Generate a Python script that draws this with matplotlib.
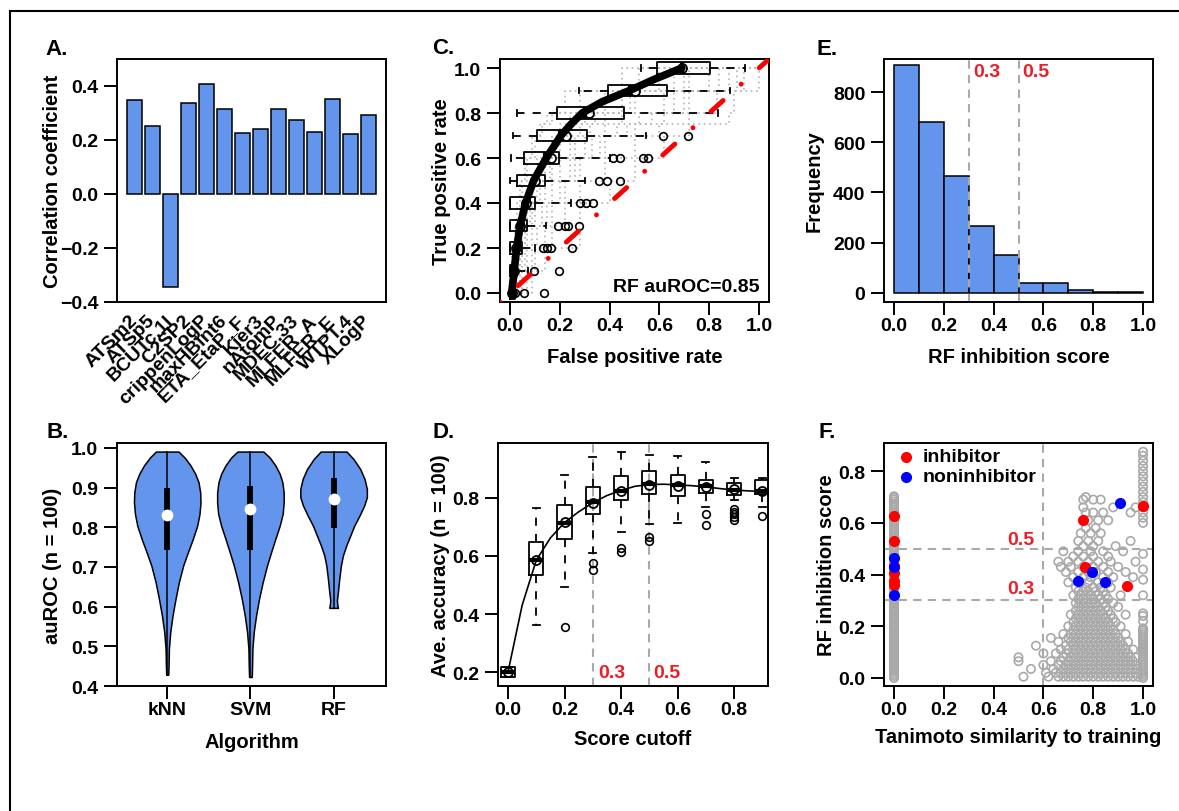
import matplotlib
matplotlib.use("Agg")
import matplotlib.pyplot as plt
from matplotlib import font_manager
from matplotlib.lines import Line2D

# ---------------- data ----------------
# A. correlation of descriptors with activity
desc_names = ["ATSm2", "ATSp5", "BCUTc.1l", "C2SP2", "crippenLogP", "maxHBint6",
              "ETA_EtaP_F", "Kier3", "nAtomP", "MDEC.33", "MLFER_A", "MLFER_E",
              "WTPT.4", "XLogP"]
desc_corr = [0.348, 0.249, -0.345, 0.337, 0.408, 0.314, 0.224, 0.240, 0.313,
             0.273, 0.228, 0.350, 0.220, 0.292]

# B. violin outlines (auROC value, half width) and inner box stats
algos = ["kNN", "SVM", "RF"]
knn_y = [0.991, 0.976, 0.956, 0.935, 0.914, 0.888, 0.863, 0.834, 0.804, 0.771,
         0.737, 0.704, 0.662, 0.620, 0.578, 0.536, 0.494, 0.452, 0.4285]
knn_w = [0.136, 0.208, 0.280, 0.336, 0.376, 0.396, 0.400, 0.388, 0.360, 0.308,
         0.248, 0.192, 0.140, 0.100, 0.064, 0.036, 0.020, 0.016, 0.012]
svm_y = [0.991, 0.976, 0.956, 0.935, 0.914, 0.888, 0.863, 0.834, 0.804, 0.771,
         0.737, 0.704, 0.662, 0.620, 0.578, 0.536, 0.494, 0.452, 0.4227]
svm_w = [0.156, 0.232, 0.300, 0.352, 0.384, 0.400, 0.400, 0.388, 0.352, 0.300,
         0.248, 0.200, 0.148, 0.104, 0.068, 0.040, 0.024, 0.020, 0.016]
rf_y = [0.991, 0.972, 0.947, 0.922, 0.897, 0.876, 0.855, 0.830, 0.804, 0.779,
        0.754, 0.729, 0.704, 0.670, 0.637, 0.616, 0.607, 0.597]
rf_w = [0.156, 0.240, 0.320, 0.372, 0.400, 0.400, 0.368, 0.312, 0.248, 0.200,
        0.152, 0.112, 0.088, 0.068, 0.052, 0.040, 0.044, 0.052]
vio_q1 = [0.742, 0.744, 0.798]
vio_q3 = [0.898, 0.903, 0.924]
vio_med = [0.831, 0.846, 0.872]

# C. ROC: FPR per TPR level (boxes), sample curves, mean curve
tpr_levels = [0.0, 0.1, 0.2, 0.3, 0.4, 0.5, 0.6, 0.7, 0.8, 0.9, 1.0]
roc_q1 = [0.0, 0.0, 0.0, 0.0, 0.0, 0.029, 0.055, 0.109, 0.188, 0.392, 0.592]
roc_med = [0.005, 0.015, 0.025, 0.035, 0.065, 0.095, 0.14, 0.20, 0.30, 0.48, 0.69]
roc_q3 = [0.02, 0.03, 0.05, 0.07, 0.10, 0.140, 0.197, 0.310, 0.457, 0.630, 0.803]
roc_lo = [0.0, 0.0, 0.0, 0.0, 0.0, 0.0, 0.004, 0.013, 0.027, 0.277, 0.525]
roc_hi = [0.02, 0.073, 0.10, 0.143, 0.247, 0.301, 0.401, 0.548, 0.834, 0.885, 0.942]
roc_fliers = [[0.02, 0.056, 0.138], [0.098, 0.195], [0.134, 0.147, 0.164, 0.25],
              [0.191, 0.221, 0.234, 0.277], [0.281, 0.307, 0.334],
              [0.357, 0.390, 0.441], [0.413, 0.441, 0.534, 0.554],
              [0.614, 0.714], [], [], []]
roc_circ = [0.01, 0.015, 0.025, 0.04, 0.065, 0.10, 0.163, 0.225, 0.318, 0.501, 0.692]
sample_tpr = [0.0, 0.1, 0.2, 0.3, 0.4, 0.5, 0.6, 0.7, 0.75, 0.8, 0.9, 1.0]
sample_fpr = [
    [0.00, 0.00, 0.01, 0.02, 0.04, 0.05, 0.07, 0.10, 0.13, 0.17, 0.28, 0.52],
    [0.00, 0.01, 0.02, 0.03, 0.05, 0.08, 0.11, 0.17, 0.20, 0.24, 0.38, 0.60],
    [0.00, 0.02, 0.03, 0.05, 0.07, 0.09, 0.14, 0.20, 0.25, 0.30, 0.45, 0.66],
    [0.00, 0.02, 0.04, 0.06, 0.09, 0.12, 0.17, 0.26, 0.32, 0.38, 0.50, 0.72],
    [0.01, 0.03, 0.05, 0.07, 0.10, 0.14, 0.20, 0.30, 0.38, 0.45, 0.62, 0.80],
    [0.02, 0.05, 0.09, 0.14, 0.17, 0.22, 0.28, 0.38, 0.50, 0.62, 0.72, 0.88],
    [0.03, 0.07, 0.10, 0.17, 0.22, 0.28, 0.38, 0.50, 0.60, 0.72, 0.83, 0.94],
    [0.05, 0.09, 0.14, 0.28, 0.28, 0.40, 0.50, 0.62, 0.72, 0.88, 0.90, 1.00],
    [0.00, 0.01, 0.01, 0.02, 0.03, 0.04, 0.06, 0.09, 0.12, 0.15, 0.22, 0.45],
    [0.01, 0.02, 0.04, 0.06, 0.08, 0.11, 0.16, 0.24, 0.28, 0.34, 0.48, 0.70],
    [0.00, 0.03, 0.06, 0.09, 0.13, 0.17, 0.24, 0.33, 0.43, 0.52, 0.66, 0.84],
    [0.02, 0.04, 0.07, 0.11, 0.15, 0.20, 0.26, 0.36, 0.47, 0.57, 0.70, 0.91],
]
mean_tpr = [0.0, 0.1, 0.2, 0.3, 0.4, 0.5, 0.6, 0.7, 0.75, 0.8, 0.85, 0.9, 0.95, 1.0]
mean_fpr = [0.007, 0.017, 0.027, 0.041, 0.063, 0.095, 0.146, 0.205, 0.245, 0.29,
            0.37, 0.48, 0.58, 0.69]

# D. accuracy vs score cutoff
cutoffs = [0.0, 0.1, 0.2, 0.3, 0.4, 0.5, 0.6, 0.7, 0.8, 0.9]
acc_q1 = [0.183, 0.533, 0.657, 0.743, 0.794, 0.814, 0.806, 0.818, 0.810, 0.814]
acc_med = [0.200, 0.585, 0.715, 0.785, 0.825, 0.848, 0.845, 0.840, 0.826, 0.822]
acc_q3 = [0.217, 0.647, 0.777, 0.837, 0.875, 0.894, 0.879, 0.862, 0.852, 0.862]
acc_lo = [0.183, 0.363, 0.494, 0.611, 0.684, 0.709, 0.713, 0.770, 0.791, 0.768]
acc_hi = [0.217, 0.766, 0.879, 0.942, 0.957, 0.948, 0.943, 0.925, 0.869, 0.870]
acc_fliers = [[], [], [0.356], [0.575, 0.550], [0.628, 0.613], [0.665, 0.650], [],
              [0.743, 0.707], [0.762, 0.752, 0.745, 0.735, 0.725], [0.739]]
acc_mean = [0.200, 0.585, 0.716, 0.783, 0.824, 0.845, 0.842, 0.837, 0.829, 0.824]
curve_x = [0.0, 0.05, 0.1, 0.15, 0.2, 0.25, 0.3, 0.35, 0.4, 0.45, 0.5, 0.55,
           0.6, 0.65, 0.7, 0.75, 0.8, 0.85, 0.9]
curve_y = [0.20, 0.43, 0.585, 0.662, 0.715, 0.752, 0.783, 0.808, 0.826, 0.840,
           0.846, 0.847, 0.845, 0.842, 0.838, 0.832, 0.827, 0.824, 0.822]

# E. histogram of RF inhibition scores
hist_edges = [0.0, 0.1, 0.2, 0.3, 0.4, 0.5, 0.6, 0.7, 0.8, 0.9]
hist_counts = [909, 683, 465, 265, 151, 39, 39, 9, 4, 1]

# F. similarity vs score
zero_sim_y = [0.000, 0.008, 0.015, 0.023, 0.031, 0.039, 0.046, 0.054, 0.062, 0.070,
              0.077, 0.085, 0.093, 0.101, 0.108, 0.116, 0.124, 0.132, 0.139, 0.147,
              0.155, 0.163, 0.170, 0.178, 0.186, 0.194, 0.201, 0.209, 0.217, 0.225,
              0.232, 0.240, 0.248, 0.256, 0.263, 0.271, 0.279, 0.287, 0.294, 0.302,
              0.310, 0.318, 0.325, 0.333, 0.341, 0.349, 0.356, 0.364, 0.372, 0.380,
              0.387, 0.395, 0.403, 0.411, 0.418, 0.426, 0.434, 0.442, 0.449, 0.457,
              0.465, 0.473, 0.480, 0.488, 0.496, 0.504, 0.511, 0.519, 0.527, 0.535,
              0.542, 0.550, 0.558, 0.566, 0.573, 0.581, 0.589, 0.597, 0.604, 0.612,
              0.620, 0.628, 0.635, 0.643, 0.651, 0.659, 0.666, 0.674, 0.682, 0.690,
              0.697, 0.703]
full_sim_y = [0.000, 0.008, 0.016, 0.024, 0.032, 0.040, 0.048, 0.056, 0.064, 0.072,
              0.080, 0.088, 0.096, 0.104, 0.112, 0.120, 0.128, 0.136, 0.144, 0.152,
              0.160, 0.168, 0.176, 0.184, 0.192, 0.22, 0.24, 0.25, 0.32, 0.38, 0.42,
              0.48, 0.60, 0.62, 0.64, 0.66, 0.68, 0.70, 0.72, 0.74, 0.76, 0.78,
              0.80, 0.82, 0.84, 0.86, 0.875]
cluster_rows = [
    (0.005, [0.52, 0.62, 0.66, 0.68, 0.70, 0.72, 0.74, 0.76, 0.78, 0.80, 0.82, 0.84, 0.86, 0.88, 0.90, 0.92, 0.94, 0.96, 0.98]),
    (0.020, [0.61, 0.65, 0.67, 0.69, 0.71, 0.73, 0.75, 0.77, 0.79, 0.81, 0.83, 0.85, 0.87, 0.89, 0.91, 0.93, 0.95, 0.97]),
    (0.035, [0.55, 0.64, 0.68, 0.70, 0.72, 0.74, 0.76, 0.78, 0.80, 0.82, 0.84, 0.86, 0.88, 0.90, 0.92, 0.94, 0.96, 0.98]),
    (0.050, [0.60, 0.66, 0.69, 0.71, 0.73, 0.75, 0.77, 0.79, 0.81, 0.83, 0.85, 0.87, 0.89, 0.91, 0.93, 0.95, 0.97]),
    (0.065, [0.50, 0.63, 0.67, 0.70, 0.72, 0.74, 0.76, 0.78, 0.80, 0.82, 0.84, 0.86, 0.88, 0.90, 0.92, 0.94, 0.96]),
    (0.080, [0.50, 0.68, 0.71, 0.73, 0.75, 0.77, 0.79, 0.81, 0.83, 0.85, 0.87, 0.89, 0.91, 0.93, 0.95, 0.97]),
    (0.095, [0.60, 0.65, 0.69, 0.72, 0.74, 0.76, 0.78, 0.80, 0.82, 0.84, 0.86, 0.88, 0.90, 0.92, 0.94]),
    (0.110, [0.67, 0.70, 0.73, 0.75, 0.77, 0.79, 0.81, 0.83, 0.85, 0.87, 0.89, 0.91, 0.93, 0.96]),
    (0.125, [0.57, 0.69, 0.72, 0.74, 0.76, 0.78, 0.80, 0.82, 0.84, 0.86, 0.88, 0.90, 0.92]),
    (0.140, [0.66, 0.71, 0.73, 0.75, 0.77, 0.79, 0.81, 0.83, 0.85, 0.87, 0.89, 0.91, 0.94]),
    (0.155, [0.63, 0.70, 0.72, 0.74, 0.76, 0.78, 0.80, 0.82, 0.84, 0.86, 0.88, 0.90]),
    (0.170, [0.68, 0.71, 0.73, 0.75, 0.77, 0.79, 0.81, 0.83, 0.85, 0.87, 0.89, 0.93]),
    (0.185, [0.72, 0.74, 0.76, 0.78, 0.80, 0.82, 0.84, 0.86, 0.88]),
    (0.200, [0.70, 0.73, 0.75, 0.77, 0.79, 0.81, 0.83, 0.85, 0.87, 0.91]),
    (0.215, [0.72, 0.74, 0.76, 0.78, 0.80, 0.82, 0.84, 0.86, 0.89]),
    (0.230, [0.73, 0.75, 0.77, 0.79, 0.81, 0.83, 0.85, 0.88]),
    (0.245, [0.71, 0.74, 0.76, 0.78, 0.80, 0.82, 0.84, 0.87, 0.93]),
    (0.260, [0.73, 0.75, 0.77, 0.79, 0.81, 0.83, 0.86]),
    (0.275, [0.74, 0.76, 0.78, 0.80, 0.82, 0.85, 0.90]),
    (0.290, [0.73, 0.75, 0.77, 0.79, 0.81, 0.84, 0.88]),
    (0.305, [0.74, 0.76, 0.78, 0.80, 0.83, 0.86]),
    (0.320, [0.72, 0.75, 0.77, 0.79, 0.82, 0.85, 0.91]),
    (0.335, [0.74, 0.76, 0.78, 0.81, 0.84]),
    (0.350, [0.73, 0.77, 0.80, 0.83, 0.87]),
    (0.370, [0.70, 0.75, 0.78, 0.82, 0.86]),
    (0.390, [0.72, 0.76, 0.79, 0.84, 0.88, 0.96]),
    (0.410, [0.69, 0.74, 0.78, 0.81, 0.86, 0.93]),
    (0.430, [0.67, 0.71, 0.76, 0.80, 0.84, 0.90]),
    (0.450, [0.66, 0.70, 0.74, 0.78, 0.82, 0.87, 0.97]),
    (0.470, [0.72, 0.76, 0.80, 0.86]),
    (0.490, [0.68, 0.74, 0.79, 0.84, 0.92]),
    (0.510, [0.76, 0.80, 0.89]),
    (0.530, [0.74, 0.78, 0.82, 0.95]),
    (0.560, [0.75, 0.79, 0.83]),
    (0.580, [0.77, 0.81]),
    (0.610, [0.78, 0.82, 0.86]),
    (0.640, [0.77, 0.80, 0.84, 0.95]),
    (0.660, [0.76, 0.88, 0.97]),
    (0.690, [0.76, 0.80, 0.83]),
    (0.700, [0.77]),
]
inhib_x = [0.0, 0.0, 0.0, 0.0, 0.0, 0.0, 0.757, 0.767, 0.937, 1.0]
inhib_y = [0.626, 0.528, 0.433, 0.407, 0.374, 0.358, 0.613, 0.429, 0.357, 0.665]
noninhib_x = [0.0, 0.0, 0.0, 0.908, 0.797, 0.739, 0.849]
noninhib_y = [0.464, 0.428, 0.322, 0.678, 0.410, 0.374, 0.370]

# ---------------- style ----------------
installed = {f.name for f in font_manager.fontManager.ttflist}
NARROW = "Liberation Sans Narrow" if "Liberation Sans Narrow" in installed else "Liberation Sans"
WIDE = "Liberation Sans"
plt.rcParams["font.family"] = [NARROW, "DejaVu Sans"]
plt.rcParams["font.weight"] = "bold"
plt.rcParams["axes.labelweight"] = "bold"
plt.rcParams["axes.linewidth"] = 1.4
plt.rcParams["xtick.major.size"] = 9.5
plt.rcParams["ytick.major.size"] = 9.5
plt.rcParams["xtick.major.width"] = 1.4
plt.rcParams["ytick.major.width"] = 1.4
plt.rcParams["xtick.labelsize"] = 14
plt.rcParams["ytick.labelsize"] = 14
plt.rcParams["axes.labelsize"] = 14.5

BLUE = "#6495ED"
GRAY = "#A9A9A9"
RED = "#EE1C25"
W, H = 1179, 812

fig = plt.figure(figsize=(W / 100, H / 100), dpi=100)


def box_axes(left, top, right, bottom):
    return fig.add_axes([left / W, 1 - bottom / H, (right - left) / W, (bottom - top) / H])


def finish(ax, xlabel, ylabel, ylab_x, xlab_y):
    ax.tick_params(axis="x", pad=1)
    ax.tick_params(axis="y", pad=4)
    if xlabel:
        ax.set_xlabel(xlabel)
        ax.xaxis.set_label_coords(0.5, xlab_y)
    ax.set_ylabel(ylabel)
    ax.yaxis.set_label_coords(ylab_x, 0.5)


def stats(q1, med, q3, lo, hi, fl):
    return [dict(q1=a, med=b, q3=c, whislo=d, whishi=e, fliers=f)
            for a, b, c, d, e, f in zip(q1, med, q3, lo, hi, fl)]


box_style = dict(
    boxprops=dict(color="black", lw=1.3),
    whiskerprops=dict(color="black", lw=1.3, ls=(0, (4.5, 4.5))),
    capprops=dict(color="black", lw=1.3),
    medianprops=dict(color="black", lw=3),
    flierprops=dict(marker="o", mfc="none", mec="black", ms=5.5, mew=1.2),
    manage_ticks=False,
)

# ---- A ----
axA = box_axes(117, 60, 386, 303)
centers = [0.7 + 1.2 * i for i in range(len(desc_corr))]
axA.bar(centers, desc_corr, width=1.0, color=BLUE, edgecolor="black", lw=1.1)
axA.set_xlim(0.2 - 0.664, 16.8 + 0.664)
axA.set_ylim(-0.4, 0.4986)
axA.set_yticks([-0.4, -0.2, 0.0, 0.2, 0.4])
axA.set_xticks(centers)
axA.set_xticklabels(desc_names, rotation=45, ha="right", va="center",
                    rotation_mode="anchor")
finish(axA, None, "Correlation coefficient", -0.204, 0)
axA.tick_params(axis="x", length=0, pad=11)

# ---- B ----
axB = box_axes(117, 444, 386, 687)
for pos, ys, ws in zip([1, 2, 3], [knn_y, svm_y, rf_y], [knn_w, svm_w, rf_w]):
    axB.fill_betweenx(ys, [pos - w for w in ws], [pos + w for w in ws],
                      facecolor=BLUE, edgecolor="black", lw=1.1)
    axB.plot([pos, pos], [ys[-1], ys[0]], color="black", lw=1.1)
for pos, a, b, m in zip([1, 2, 3], vio_q1, vio_q3, vio_med):
    axB.plot([pos, pos], [a, b], color="black", lw=4.2, solid_capstyle="butt")
    axB.plot([pos], [m], "o", color="white", ms=7.5)
axB.set_xlim(0.396, 3.63)
axB.set_ylim(0.4, 1.0126)
axB.set_xticks([1, 2, 3])
axB.set_xticklabels(algos)
axB.set_yticks([0.4, 0.5, 0.6, 0.7, 0.8, 0.9, 1.0])
finish(axB, "Algorithm", "auROC (n = 100)", -0.204, -0.189)

# ---- C ----
axC = box_axes(500, 60, 769, 303)
for fpr in sample_fpr:
    axC.plot([0.0] + fpr + [1.0], [0.0] + sample_tpr + [1.0], drawstyle="steps-post",
             color="#B5B5B5", lw=1.2, ls=(0, (1, 2.2)), zorder=1)
try:
    axC.bxp(stats(roc_q1, roc_med, roc_q3, roc_lo, roc_hi, roc_fliers),
            positions=tpr_levels, widths=0.05, orientation="horizontal", **box_style)
except TypeError:
    axC.bxp(stats(roc_q1, roc_med, roc_q3, roc_lo, roc_hi, roc_fliers),
            positions=tpr_levels, widths=0.05, vert=False, **box_style)
axC.plot(roc_circ, tpr_levels, "o", mfc="none", mec="black", ms=6.5, mew=1.3)
axC.plot(mean_fpr, mean_tpr, color="black", lw=5.5, solid_capstyle="round")
axC.plot([-0.04, 1.04], [-0.04, 1.04], color="red", lw=3.5,
         ls=(0, (0.01, 5.0, 3.36, 5.0)), dash_capstyle="round", zorder=5)
axC.text(1.003, 0.007, "RF auROC=0.85", ha="right", va="baseline", fontsize=14)
axC.set_xlim(-0.04, 1.04)
axC.set_ylim(-0.04, 1.04)
axC.set_xticks([0, 0.2, 0.4, 0.6, 0.8, 1.0])
axC.set_yticks([0, 0.2, 0.4, 0.6, 0.8, 1.0])
finish(axC, "False positive rate", "True positive rate", -0.182, -0.185)

# ---- D ----
axD = box_axes(498, 444, 768, 687)
for c in (0.3, 0.5):
    axD.axvline(c, color=GRAY, lw=1.5, ls=(0, (4, 3)), zorder=0)
axD.bxp(stats(acc_q1, acc_med, acc_q3, acc_lo, acc_hi, acc_fliers),
        positions=cutoffs, widths=0.05, **box_style)
axD.plot(curve_x, curve_y, color="black", lw=1.2)
axD.plot(cutoffs, acc_mean, "o", mfc="none", mec="black", ms=6.5, mew=1.3)
axD.text(0.318, 0.2, "0.3", color=RED, ha="left", va="center", fontsize=14)
axD.text(0.513, 0.2, "0.5", color=RED, ha="left", va="center", fontsize=14)
axD.set_xlim(-0.0354, 0.92)
axD.set_ylim(0.152, 0.989)
axD.set_xticks([0, 0.2, 0.4, 0.6, 0.8])
axD.set_yticks([0.2, 0.4, 0.6, 0.8])
finish(axD, "Score cutoff", "Ave. accuracy (n = 100)", -0.178, -0.177)

# ---- E ----
axE = box_axes(884, 60, 1153, 303)
axE.bar(hist_edges, hist_counts, width=0.1, align="edge", color=BLUE,
        edgecolor="black", lw=1.1)
for c in (0.3, 0.5):
    axE.axvline(c, color=GRAY, lw=1.5, ls=(0, (4, 3)))
axE.text(0.317, 884, "0.3", color=RED, ha="left", va="center", fontsize=14)
axE.text(0.517, 884, "0.5", color=RED, ha="left", va="center", fontsize=14)
axE.set_xlim(-0.04, 1.04)
axE.set_ylim(-37.3, 933)
axE.set_xticks([0, 0.2, 0.4, 0.6, 0.8, 1.0])
axE.set_yticks([0, 200, 400, 600, 800])
finish(axE, "RF inhibition score", "Frequency", -0.223, -0.185)

# ---- F ----
axF = box_axes(884, 444, 1153, 687)
gx = [0.0] * len(zero_sim_y) + [1.0] * len(full_sim_y)
gy = list(zero_sim_y) + list(full_sim_y)
for yv, xs in cluster_rows:
    gx += xs
    gy += [yv] * len(xs)
axF.scatter(gx, gy, s=36, facecolors="none", edgecolors=GRAY, linewidths=1.2, zorder=2)
axF.axvline(0.6, color=GRAY, lw=1.5, ls=(0, (4, 3)), zorder=1)
for c in (0.3, 0.5):
    axF.axhline(c, color=GRAY, lw=1.5, ls=(0, (4, 3)), zorder=1)
axF.text(0.565, 0.536, "0.5", color=RED, ha="right", va="center", fontsize=14)
axF.text(0.565, 0.345, "0.3", color=RED, ha="right", va="center", fontsize=14)
axF.plot(inhib_x, inhib_y, "o", color="red", ms=7, ls="none", zorder=4)
axF.plot(noninhib_x, noninhib_y, "o", color="blue", ms=7, ls="none", zorder=4)
axF.plot([0.048], [0.855], "o", color="red", ms=7)
axF.plot([0.048], [0.778], "o", color="blue", ms=7)
axF.text(0.115, 0.855, "inhibitor", ha="left", va="center", fontsize=14)
axF.text(0.115, 0.778, "noninhibitor", ha="left", va="center", fontsize=14)
axF.set_xlim(-0.04, 1.04)
axF.set_ylim(-0.031, 0.909)
axF.set_xticks([0, 0.2, 0.4, 0.6, 0.8, 1.0])
axF.set_yticks([0, 0.2, 0.4, 0.6, 0.8])
finish(axF, "Tanimoto similarity to training", "RF inhibition score", -0.178, -0.169)

# panel letters
for letter, xp, yp in [("A.", 45, 55), ("C.", 432, 54), ("E.", 817, 55),
                       ("B.", 47, 438), ("D.", 432, 438), ("F.", 818, 438)]:
    fig.text(xp / W, 1 - yp / H, letter, family=WIDE, fontsize=16,
             fontweight="bold", va="baseline", ha="left")

# outer frame lines
fig.add_artist(Line2D([10 / W, 1.0], [1 - 12 / H, 1 - 12 / H], color="black", lw=1.5))
fig.add_artist(Line2D([10 / W, 10 / W], [0.0, 1 - 12 / H], color="black", lw=1.5))

fig.savefig("out.png", dpi=100)
